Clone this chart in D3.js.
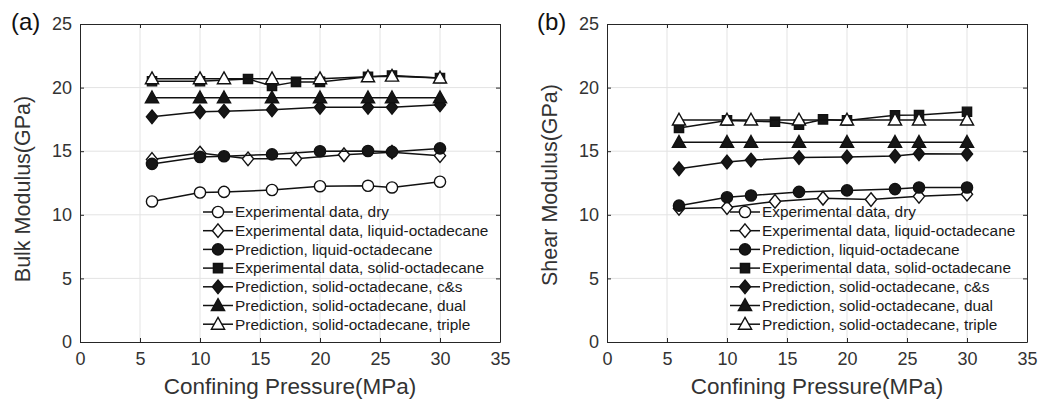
<!DOCTYPE html>
<html>
<head>
<meta charset="utf-8">
<script src="https://cdn.jsdelivr.net/npm/d3@7"></script>
<style>
  body { margin: 0; background: #fff; }
  svg { display: block; font-family: "Liberation Sans", Arial, Helvetica, sans-serif; }
</style>
</head>
<body>
<svg id="chart" width="1039" height="401"></svg>
<script>
// =========
// Data
// =========

var xTicks = [0, 5, 10, 15, 20, 25, 30, 35];
var yTicks = [0, 5, 10, 15, 20, 25];

var seriesNames = [
    'Experimental data, dry',
    'Experimental data, liquid-octadecane',
    'Prediction, liquid-octadecane',
    'Experimental data, solid-octadecane',
    'Prediction, solid-octadecane, c&s',
    'Prediction, solid-octadecane, dual',
    'Prediction, solid-octadecane, triple'
];
var seriesMarkers = ['circle', 'diamond', 'circle', 'square', 'diamond', 'triangle', 'triangle'];
var seriesFilled = [false, false, true, true, true, true, false];

// pressure (MPa) sampled by each series
var pressurePred = [6, 10, 12, 16, 20, 24, 26, 30];
var pressureLiquidExp = [6, 10, 14, 18, 22, 26, 30];
var pressureSolidExp = [6, 10, 14, 16, 18, 20, 24, 26, 30];

// (a) bulk modulus, GPa
var bulkDry = [11.05, 11.75, 11.8, 11.95, 12.25, 12.28, 12.15, 12.6];
var bulkLiquidExp = [14.35, 14.85, 14.4, 14.4, 14.72, 14.92, 14.65];
var bulkLiquidPred = [14.0, 14.55, 14.6, 14.75, 15.0, 15.02, 14.95, 15.22];
var bulkSolidExp = [20.5, 20.5, 20.68, 20.12, 20.45, 20.45, 20.85, 20.95, 20.75];
var bulkCS = [17.7, 18.1, 18.15, 18.25, 18.45, 18.45, 18.45, 18.65];
var bulkDual = [19.2, 19.2, 19.2, 19.2, 19.2, 19.2, 19.2, 19.2];
var bulkTriple = [20.7, 20.7, 20.7, 20.7, 20.7, 20.85, 20.9, 20.75];

// (b) shear modulus, GPa (no dry points shown)
var shearDry = [];
var shearLiquidExp = [10.5, 10.57, 11.05, 11.3, 11.2, 11.45, 11.62];
var shearLiquidPred = [10.72, 11.38, 11.52, 11.8, 11.92, 12.02, 12.15, 12.15];
var shearSolidExp = [16.82, 17.42, 17.31, 17.08, 17.5, 17.42, 17.82, 17.84, 18.1];
var shearCS = [13.62, 14.15, 14.3, 14.5, 14.55, 14.62, 14.8, 14.78];
var shearDual = [15.7, 15.7, 15.7, 15.7, 15.7, 15.7, 15.7, 15.7];
var shearTriple = [17.45, 17.45, 17.45, 17.45, 17.45, 17.45, 17.45, 17.45];

var xSets = [pressurePred, pressureLiquidExp, pressurePred, pressureSolidExp, pressurePred, pressurePred, pressurePred];

function zip(xs, ys){
    return ys.map(function(v, i){ return {x: xs[i], y: v}; });
}

function build_series(values){
    return values.map(function(ys, i){
        return {
            name: seriesNames[i],
            marker: seriesMarkers[i],
            filled: seriesFilled[i],
            points: ys.length ? zip(xSets[i], ys) : []
        };
    });
}

var bulkSeries = build_series([bulkDry, bulkLiquidExp, bulkLiquidPred, bulkSolidExp, bulkCS, bulkDual, bulkTriple]);
var shearSeries = build_series([shearDry, shearLiquidExp, shearLiquidPred, shearSolidExp, shearCS, shearDual, shearTriple]);

// =========
// Markers
// =========

function marker_path(type){
    switch(type){
    case 'circle':
        return 'M5.6,0A5.6,5.6 0 1,1 -5.6,0A5.6,5.6 0 1,1 5.6,0Z';
    case 'diamond':
        return 'M0,-6.8L5.6,0L0,6.8L-5.6,0Z';
    case 'square':
        return 'M-4.6,-4.6H4.6V4.6H-4.6Z';
    case 'triangle':
        return 'M0,-6.8L6.6,5L-6.6,5Z';
    }
}

// =========
// Panel
// =========

function Panel(svg, opts){
    var that = this;
    that.svg = svg;
    that.opts = opts;
    that.x = d3.scaleLinear().domain([0, 35]).range([opts.left, opts.right]);
    that.y = d3.scaleLinear().domain([0, 25]).range([opts.bottom, opts.top]);
    that.g = svg.append('g');
}

Panel.prototype.draw_grid = function(){
    var x = this.x, y = this.y, o = this.opts;
    var grid = this.g.append('g').attr('stroke', '#e3e3e3').attr('stroke-width', 1);
    grid.selectAll('.vg').data(xTicks.slice(1, -1)).enter().append('line')
        .attr('x1', function(d){ return x(d); }).attr('x2', function(d){ return x(d); })
        .attr('y1', o.top).attr('y2', o.bottom);
    grid.selectAll('.hg').data(yTicks.slice(1, -1)).enter().append('line')
        .attr('y1', function(d){ return y(d); }).attr('y2', function(d){ return y(d); })
        .attr('x1', o.left).attr('x2', o.right);
};

Panel.prototype.draw_axes = function(){
    var x = this.x, y = this.y, o = this.opts;
    var axisColor = '#262626';

    var bottom = this.g.append('g').attr('transform', 'translate(0,' + o.bottom + ')')
        .call(d3.axisBottom(x).tickValues(xTicks).tickSizeInner(-4).tickSizeOuter(0).tickPadding(10));
    var top = this.g.append('g').attr('transform', 'translate(0,' + o.top + ')')
        .call(d3.axisTop(x).tickValues(xTicks).tickSizeInner(-4).tickSizeOuter(0).tickFormat(''));
    var left = this.g.append('g').attr('transform', 'translate(' + o.left + ',0)')
        .call(d3.axisLeft(y).tickValues(yTicks).tickSizeInner(-4).tickSizeOuter(0).tickPadding(8));
    var right = this.g.append('g').attr('transform', 'translate(' + o.right + ',0)')
        .call(d3.axisRight(y).tickValues(yTicks).tickSizeInner(-4).tickSizeOuter(0).tickFormat(''));

    [bottom, top, left, right].forEach(function(a){
        a.select('.domain').attr('stroke', axisColor).attr('stroke-width', 1);
        a.selectAll('.tick line').attr('stroke', axisColor);
        a.selectAll('.tick text')
            .attr('fill', '#333')
            .style('font-size', '18px')
            .style('font-family', '"Liberation Sans", Arial, sans-serif');
    });

    this.g.append('text')
        .attr('x', (o.left + o.right) / 2)
        .attr('y', 394)
        .attr('text-anchor', 'middle')
        .attr('fill', '#333')
        .style('font-size', '22.5px')
        .text('Confining Pressure(MPa)');

    this.g.append('text')
        .attr('transform', 'translate(' + (o.left - 50) + ',' + o.titleY + ') rotate(-90)')
        .attr('text-anchor', 'middle')
        .attr('fill', '#333')
        .style('font-size', '21.5px')
        .text(o.yTitle);

    this.g.append('text')
        .attr('x', o.labelX)
        .attr('y', 30)
        .attr('fill', '#111')
        .style('font-size', '24px')
        .text(o.label);
};

Panel.prototype.draw_series = function(series){
    var x = this.x, y = this.y;
    var line = d3.line().x(function(d){ return x(d.x); }).y(function(d){ return y(d.y); });
    var g = this.g.append('g');

    series.forEach(function(s){
        if(!s.points.length) return;
        var sg = g.append('g');
        sg.append('path')
            .attr('d', line(s.points))
            .attr('fill', 'none')
            .attr('stroke', '#111')
            .attr('stroke-width', 1.5);
        sg.selectAll('path.mk').data(s.points).enter().append('path')
            .attr('class', 'mk')
            .attr('d', marker_path(s.marker))
            .attr('transform', function(d){ return 'translate(' + x(d.x) + ',' + y(d.y) + ')'; })
            .attr('fill', s.filled ? '#161616' : '#fff')
            .attr('stroke', '#111')
            .attr('stroke-width', 1.4);
    });
};

Panel.prototype.draw_legend = function(series){
    var o = this.opts;
    var x0 = o.left + 123;
    var y0 = 212;
    var step = 18.7;
    var lg = this.g.append('g');

    series.forEach(function(s, i){
        var yy = y0 + i * step;
        lg.append('line')
            .attr('x1', x0).attr('x2', x0 + 30)
            .attr('y1', yy).attr('y2', yy)
            .attr('stroke', '#111').attr('stroke-width', 1.5);
        lg.append('path')
            .attr('d', marker_path(s.marker))
            .attr('transform', 'translate(' + (x0 + 15) + ',' + yy + ')')
            .attr('fill', s.filled ? '#161616' : '#fff')
            .attr('stroke', '#111')
            .attr('stroke-width', 1.4);
        lg.append('text')
            .attr('x', x0 + 32)
            .attr('y', yy)
            .attr('dy', '0.35em')
            .attr('fill', '#1a1a1a')
            .style('font-size', '15.4px')
            .text(s.name);
    });
};

Panel.prototype.draw = function(series){
    this.draw_grid();
    this.draw_axes();
    this.draw_series(series);
    this.draw_legend(series);
};

var svg = d3.select('#chart');

var panelA = new Panel(svg, {left: 80, right: 500, top: 24, bottom: 342, label: '(a)', labelX: 11, yTitle: 'Bulk Modulus(GPa)', titleY: 189});
panelA.draw(bulkSeries);

var panelB = new Panel(svg, {left: 607, right: 1027, top: 24, bottom: 342, label: '(b)', labelX: 537, yTitle: 'Shear Modulus(GPa)', titleY: 185});
panelB.draw(shearSeries);
</script>
</body>
</html>
